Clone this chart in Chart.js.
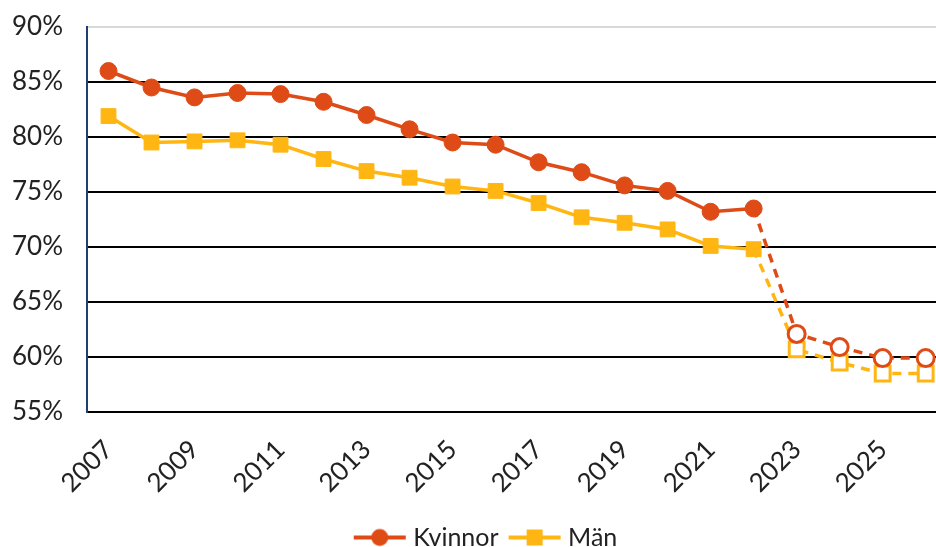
<!DOCTYPE html>
<html>
<head>
<meta charset="utf-8">
<script src="https://cdn.jsdelivr.net/npm/chart.js@4/dist/chart.umd.min.js"></script>
<style>
  html, body { margin: 0; padding: 0; background: #fff; }
  #wrap { width: 936px; height: 547px; position: relative; }
</style>
</head>
<body>
<div id="wrap"><canvas id="chart"></canvas></div>
<script>
// Data
const years = [2007, 2008, 2009, 2010, 2011, 2012, 2013, 2014, 2015, 2016,
               2017, 2018, 2019, 2020, 2021, 2022, 2023, 2024, 2025, 2026];
const kvinnor = [86.0, 84.5, 83.6, 84.0, 83.9, 83.2, 82.0, 80.7, 79.5, 79.3,
                 77.7, 76.8, 75.6, 75.1, 73.2, 73.5, 62.1, 60.9, 59.9, 59.9];
const man = [81.9, 79.5, 79.6, 79.7, 79.3, 78.0, 76.9, 76.3, 75.5, 75.1,
             74.0, 72.7, 72.2, 71.6, 70.1, 69.8, 60.7, 59.5, 58.5, 58.5];
const xTicks = [2007, 2009, 2011, 2013, 2015, 2017, 2019, 2021, 2023, 2025];
const lastActual = 2022; // efter detta: prognos (streckad, ihåliga markörer)

const orange = '#DE4B16';
const yellow = '#FFB612';
const fontFam = 'Lato, "DejaVu Sans", sans-serif';

function pts(vals) {
  return years.map((y, i) => ({ x: y, y: vals[i] }));
}
const isForecast = i => years[i] > lastActual;

// liten bild för legenden: linje + markör (förskjuten lite mot texten)
function legendIcon(color, style) {
  const c = document.createElement('canvas');
  c.width = 66; c.height = 20;
  const g = c.getContext('2d');
  g.strokeStyle = color; g.lineWidth = 4;
  g.beginPath(); g.moveTo(13, 10); g.lineTo(65, 10); g.stroke();
  g.fillStyle = color;
  if (style === 'circle') {
    g.beginPath(); g.arc(39, 10, 8.5, 0, Math.PI * 2); g.fill();
  } else {
    g.fillRect(31, 2, 16, 16);
  }
  return c;
}

function makeDataset(label, vals, color, style) {
  return {
    label: label,
    data: pts(vals),
    borderColor: color,
    borderWidth: 3.5,
    pointStyle: style,
    pointRadius: style === 'rect' ? 10.5 : 8.5,
    pointHoverRadius: 8,
    pointBorderWidth: ctx => isForecast(ctx.dataIndex) ? 3 : 1,
    pointBorderColor: color,
    pointBackgroundColor: ctx => isForecast(ctx.dataIndex) ? '#ffffff' : color,
    tension: 0,
    fill: false,
    segment: {
      borderDash: ctx => years[ctx.p0DataIndex] >= lastActual ? [9, 7] : undefined
    }
  };
}

// flytta legenden lite (placering som i originalet)
const legendShift = {
  id: 'legendShift',
  beforeDraw(chart) {
    chart.legend.left += 14;
    chart.legend.right += 14;
    chart.legend.top += 13;
    chart.legend.bottom += 13;
  }
};

const ctx = document.getElementById('chart').getContext('2d');
new Chart(ctx, {
  type: 'line',
  data: {
    datasets: [
      makeDataset('Kvinnor', kvinnor, orange, 'circle'),
      makeDataset('Män', man, yellow, 'rect')
    ]
  },
  plugins: [legendShift],
  options: {
    responsive: true,
    maintainAspectRatio: false,
    animation: false,
    layout: { autoPadding: false, padding: { top: 27, right: 0, left: 0, bottom: 0 } },
    plugins: {
      tooltip: { enabled: false },
      legend: {
        position: 'bottom',
        labels: {
          usePointStyle: true,
          pointStyleWidth: 54,
          boxHeight: 20,
          color: '#222',
          font: { family: fontFam, size: 25 },
          padding: 3,
          generateLabels: chart => chart.data.datasets.map((ds, i) => ({
            text: ds.label,
            pointStyle: legendIcon(ds.borderColor, ds.pointStyle),
            fontColor: '#222',
            lineWidth: 0,
            strokeStyle: 'transparent',
            fillStyle: 'transparent',
            datasetIndex: i
          }))
        }
      }
    },
    scales: {
      x: {
        type: 'linear',
        min: 2006.5,
        max: 2026.24,
        afterBuildTicks: scale => { scale.ticks = xTicks.map(v => ({ value: v })); },
        afterFit: scale => {
          scale.height = 97;
          scale.paddingLeft = 0;
          scale.paddingRight = 0;
        },
        grid: { display: false, drawTicks: false },
        border: { display: false },
        ticks: {
          autoSkip: false,
          minRotation: 45,
          maxRotation: 45,
          padding: 22,
          color: '#222',
          font: { family: fontFam, size: 26 },
          callback: v => String(v)
        }
      },
      y: {
        min: 55,
        max: 90,
        afterFit: scale => {
          scale.width = 87;
          scale.paddingTop = 0;
          scale.paddingBottom = 0;
        },
        grid: {
          color: c => c.tick && c.tick.value === 90 ? '#d9d9d9' : '#000000',
          lineWidth: 2,
          drawTicks: false
        },
        border: { display: true, color: '#1F3F73', width: 2 },
        ticks: {
          stepSize: 5,
          padding: 24,
          color: '#222',
          font: { family: fontFam, size: 26 },
          callback: v => v + '%'
        }
      }
    }
  }
});
</script>
</body>
</html>
